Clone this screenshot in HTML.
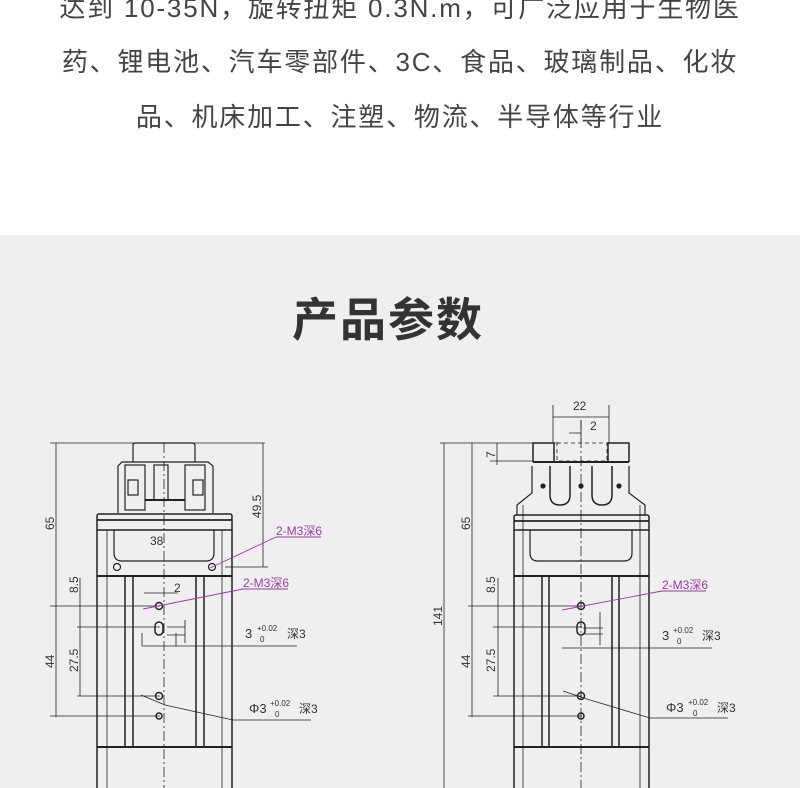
<!DOCTYPE html>
<html><head><meta charset="utf-8"><style>
body{margin:0;width:800px;height:788px;overflow:hidden;background:#fff;font-family:"Liberation Sans","Noto Sans CJK SC",sans-serif}
.t{position:absolute;left:0;width:800px;text-align:center;font-size:26px;color:#444;letter-spacing:1.8px;white-space:nowrap;line-height:30px}
</style></head><body>
<div class="t" style="top:-7px">达到 10-35N，旋转扭矩 0.3N.m，可广泛应用于生物医</div>
<div class="t" style="top:47px">药、锂电池、汽车零部件、3C、食品、玻璃制品、化妆</div>
<div class="t" style="top:102px">品、机床加工、注塑、物流、半导体等行业</div>
<div style="position:absolute;left:0;top:235px;width:800px;height:553px;background:#efefef"></div>
<div style="position:absolute;left:-12px;top:291px;width:800px;text-align:center;font-size:46px;font-weight:bold;color:#333;letter-spacing:2px;line-height:58px">产品参数</div>
<svg style="position:absolute;left:0;top:0" width="800" height="788" font-family="Liberation Sans, Noto Sans CJK SC, sans-serif">
<g fill="none" stroke="#222" stroke-width="1.2">
<line x1="50" y1="443" x2="265" y2="443" stroke-width="0.8"/>
<line x1="56" y1="443" x2="56" y2="717" stroke-width="0.8"/>
<line x1="263" y1="443" x2="263" y2="567" stroke-width="0.8"/>
<line x1="225" y1="567" x2="268" y2="567" stroke-width="0.8"/>
<path d="M133 462 V445 Q133 443 136 443 H192 Q195 443 195 446 V462"/>
<path d="M118 513 V466 L122 462 H208 L213 466 V513"/>
<rect x="125" y="465" width="20" height="45"/><rect x="185" y="465" width="20" height="45"/>
<rect x="128" y="480" width="10" height="15"/><rect x="193" y="480" width="10" height="15"/>
<rect x="154" y="465" width="14" height="35"/>
<line x1="145" y1="500" x2="185" y2="500" stroke-width="2"/>
<rect x="97" y="514" width="135" height="6" rx="2" stroke-width="1.5"/>
<rect x="97" y="520" width="135" height="10" stroke-width="1.5"/>
<path d="M97 530 V788 M232 530 V788" stroke-width="1.5"/>
<path d="M107 530 V788 M222 530 V788" stroke-width="0.8"/>
<path d="M114 530 V553 Q114 561 122 561 H206 Q214 561 214 553 V530"/>
<line x1="97" y1="576" x2="232" y2="576" stroke-width="2"/>
<line x1="97" y1="747" x2="232" y2="747" stroke-width="2"/>
<path d="M125 576V747 M133 576V747 M196 576V747 M204 576V747" stroke-width="1.5"/>
<circle cx="117" cy="567" r="3.5"/><circle cx="212" cy="567" r="3.5"/>
<circle cx="159" cy="606" r="3.5" stroke-width="1.5"/>
<rect x="155" y="622" width="8" height="13" rx="4" stroke-width="1.5"/>
<circle cx="159" cy="696" r="3.5" stroke-width="1.5"/>
<circle cx="159" cy="716" r="3" stroke-width="1.5"/>
<line x1="164" y1="443" x2="164" y2="788" stroke-width="0.8" stroke-dasharray="10,3,2,3"/>
<path d="M50 606H160 M77 627H160 M77 696H160 M50 716H160" stroke-width="0.8"/>
<line x1="80" y1="578" x2="80" y2="696" stroke-width="0.8"/>
<path d="M144 593H178 M185 620V643 M142 646H297 M142 633V646 M176 633V646 M167 627H185 M167 635H185" stroke-width="0.8"/>
<path d="M141 695 L165 705 L233 720 H311" stroke-width="0.8"/>
<path d="M553 405V443 M609 405V443 M553 417H609 M569 433H581 M581 420V443" stroke-width="0.8"/>
<line x1="440" y1="443" x2="560" y2="443" stroke-width="0.8"/>
<line x1="444" y1="443" x2="444" y2="788" stroke-width="0.8"/>
<line x1="472" y1="443" x2="472" y2="717" stroke-width="0.8"/>
<line x1="497" y1="443" x2="497" y2="465" stroke-width="0.8"/>
<line x1="490" y1="461" x2="533" y2="461" stroke-width="0.8"/>
<path d="M533 462V443H554V462 M608 462V443H629V462" stroke-width="1.5"/>
<rect x="557" y="443" width="50" height="18" stroke-dasharray="4,3" stroke-width="0.8"/>
<line x1="533" y1="462" x2="629" y2="462" stroke-width="2"/>
<path d="M532 466V493L517 505V515 M629 466V493L645 505V515"/>
<path d="M550 466V495Q550 505 560 505Q570 505 570 495V466 M592 466V495Q592 505 602 505Q612 505 612 495V466" stroke-width="1.5"/>
<circle cx="543" cy="486" r="2" fill="#222"/><circle cx="581" cy="486" r="2" fill="#222"/><circle cx="619" cy="486" r="2" fill="#222"/>
<rect x="514" y="515" width="135" height="6" rx="2" stroke-width="1.5"/>
<rect x="514" y="521" width="135" height="9" stroke-width="1.5"/>
<path d="M514 530V788 M649 530V788" stroke-width="1.5"/>
<path d="M523 505V788 M640 505V788" stroke-width="0.8"/>
<path d="M530 530V553Q530 561 538 561H624Q632 561 632 553V530"/>
<line x1="514" y1="576" x2="649" y2="576" stroke-width="2"/>
<line x1="514" y1="747" x2="649" y2="747" stroke-width="2"/>
<path d="M542 576V747 M549 576V747 M612 576V747 M619 576V747" stroke-width="1.5"/>
<circle cx="581" cy="606" r="3.5" stroke-width="1.5"/>
<rect x="577" y="622" width="8" height="13" rx="4" stroke-width="1.5"/>
<circle cx="581" cy="696" r="3.5" stroke-width="1.5"/>
<circle cx="581" cy="716" r="3" stroke-width="1.5"/>
<line x1="581" y1="420" x2="581" y2="788" stroke-width="0.8" stroke-dasharray="10,3,2,3"/>
<path d="M468 606H582 M493 627H582 M493 696H582 M468 716H582" stroke-width="0.8"/>
<line x1="498" y1="578" x2="498" y2="696" stroke-width="0.8"/>
<path d="M600 612V645 M583 628H603 M583 634H603 M562 648H712" stroke-width="0.8"/>
<path d="M563 691 L590 700 L650 718 H728" stroke-width="0.8"/>
</g>
<g fill="none" stroke="#9a3da0" stroke-width="0.9">
<path d="M210 568 L276 537 H321"/><path d="M143 609 L243 589 H288"/>
<path d="M562 610 L662 591 H706"/>
</g>
<g fill="#9a3da0" font-size="12">
<text x="276" y="535">2-M3深6</text><text x="243" y="587">2-M3深6</text><text x="662" y="589">2-M3深6</text>
</g>
<g fill="#333" font-size="12">
<text x="150" y="545">38</text><text x="174" y="592">2</text><text x="590" y="430">2</text>
<text x="573" y="410">22</text>
<text x="245" y="638" font-size="13">3</text><text x="257" y="631" font-size="8">+0.02</text><text x="260" y="642" font-size="8">0</text><text x="287" y="638">深3</text>
<text x="249" y="713" font-size="13">Φ3</text><text x="270" y="706" font-size="8">+0.02</text><text x="275" y="717" font-size="8">0</text><text x="299" y="713">深3</text>
<text x="662" y="640" font-size="13">3</text><text x="673" y="633" font-size="8">+0.02</text><text x="677" y="644" font-size="8">0</text><text x="702" y="640">深3</text>
<text x="666" y="712" font-size="13">Φ3</text><text x="688" y="705" font-size="8">+0.02</text><text x="693" y="716" font-size="8">0</text><text x="717" y="712">深3</text>
<text transform="translate(54,530) rotate(-90)">65</text>
<text transform="translate(54,668) rotate(-90)">44</text>
<text transform="translate(78,593) rotate(-90)">8.5</text>
<text transform="translate(78,672) rotate(-90)">27.5</text>
<text transform="translate(261,518) rotate(-90)">49.5</text>
<text transform="translate(470,530) rotate(-90)">65</text>
<text transform="translate(470,668) rotate(-90)">44</text>
<text transform="translate(495,593) rotate(-90)">8.5</text>
<text transform="translate(495,672) rotate(-90)">27.5</text>
<text transform="translate(442,626) rotate(-90)">141</text>
<text transform="translate(495,458) rotate(-90)">7</text>
</g>
</svg>
</body></html>
